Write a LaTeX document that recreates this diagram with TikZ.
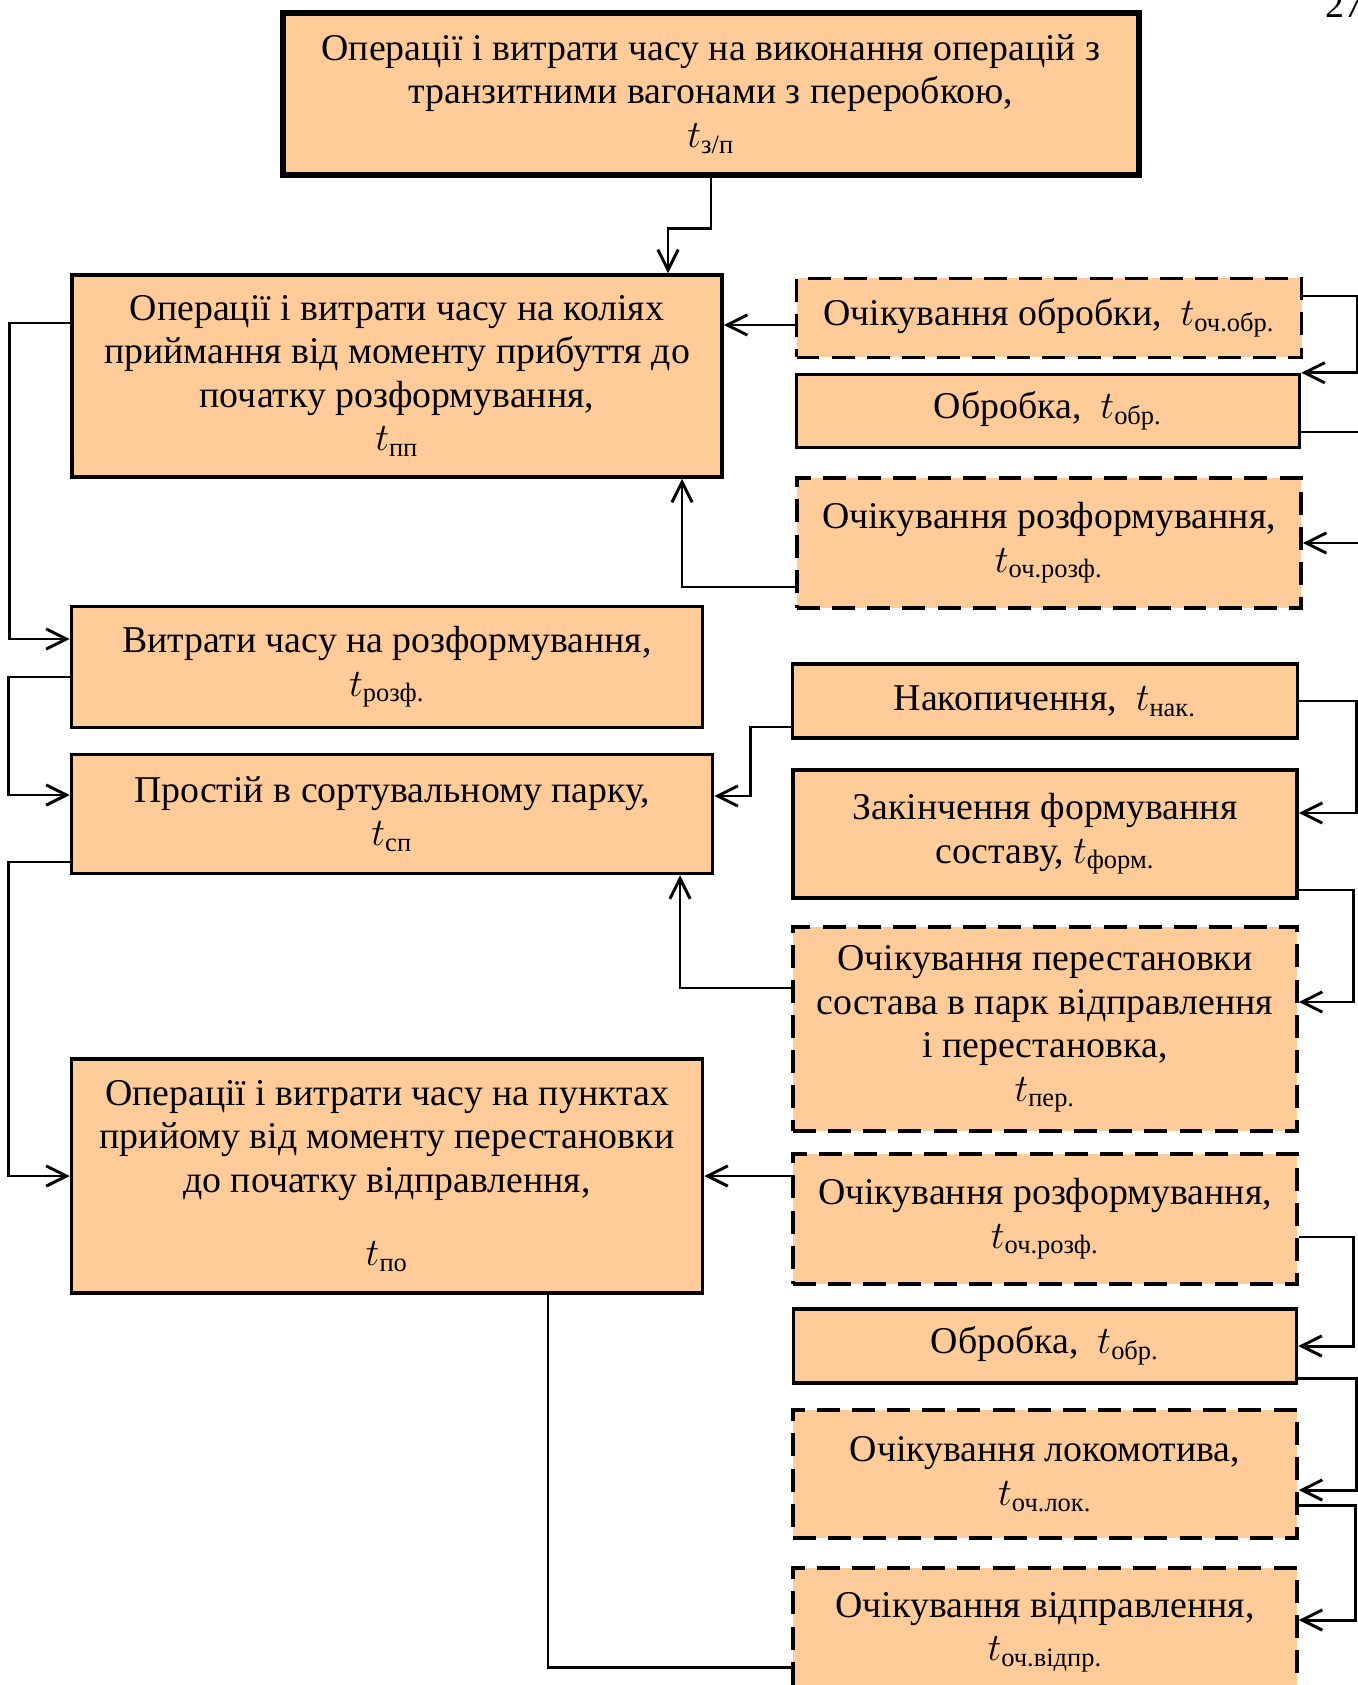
\documentclass[tikz,border=0pt]{standalone}
\usepackage{amsmath}
\usepackage{fontspec}
\setmainfont{Liberation Serif}
\usepackage{tikz}
\usetikzlibrary{arrows.meta}
\definecolor{SchemeBoxColor}{RGB}{255,204,153}
\newlength\pxlength
\setlength\pxlength{0.37pt}

\begin{document}
\begin{tikzpicture}[x=1\pxlength,y=-1\pxlength,
    blk/.style n args={2}{draw,line width=1.3pt,fill=SchemeBoxColor,minimum width=#1\pxlength,minimum height=#2\pxlength,inner sep=0pt,align=center,font=\fontsize{14}{16.1}\selectfont},
    dblk/.style n args={2}{blk={#1}{#2},dash pattern=on 8.5pt off 4.5pt},
    link/.style={line width=1.1pt},
    linkarr/.style={link,-{Straight Barb[length=7.5pt,width=7.5pt]}}]
    \useasboundingbox (0,0) rectangle (1357,1685);
    \node[anchor=base west,inner sep=0pt,font=\fontsize{14}{16.1}\selectfont] (pgnum) at (1325,18) {27};
    \node[blk={856}{162},line width=2pt] (tzp) at (711,94)
       {Операції і витрати часу на виконання операцій з\\ транзитними вагонами з переробкою,\\ $t_{\text{з/п}}$};
    \node[blk={650}{202}] (pp) at (397,376)
       {Операції і витрати часу на коліях\\ приймання від моменту прибуття до\\ початку розформування,\\ $t_{\text{пп}}$};
    \node[dblk={505}{79}] (ocobr) at (1049,318) {Очікування обробки,\ \ $t_{\text{оч.обр.}}$};
    \node[blk={503}{73}] (obr) at (1048,411) {Обробка,\ \ $t_{\text{обр.}}$};
    \node[dblk={504}{130}] (ocrozf) at (1049,543) {Очікування розформування,\\ $t_{\text{оч.розф.}}$};
    \node[blk={631}{121}] (rozf) at (387,667) {Витрати часу на розформування,\\ $t_{\text{розф.}}$};
    \node[blk={641}{119}] (sp) at (392,814) {Простій в сортувальному парку,\\ $t_{\text{сп}}$};
    \node[blk={631}{234}] (po) at (387,1176)
       {Операції і витрати часу на пунктах\\ прийому від моменту перестановки\\ до початку відправлення,\\[11pt] $t_{\text{по}}$};
    \node[blk={505}{74}] (nak) at (1045,701) {Накопичення,\ \ $t_{\text{нак.}}$};
    \node[blk={504}{128}] (form) at (1045,834) {Закінчення формування\\ составу, $t_{\text{форм.}}$};
    \node[dblk={504}{204}] (per) at (1045,1029)
       {Очікування перестановки\\ состава в парк відправлення\\ і перестановка,\\ $t_{\text{пер.}}$};
    \node[dblk={504}{130}] (ocrozf2) at (1045,1219) {Очікування розформування,\\ $t_{\text{оч.розф.}}$};
    \node[blk={503}{74}] (obr2) at (1045,1346) {Обробка,\ \ $t_{\text{обр.}}$};
    \node[dblk={504}{128}] (oclok) at (1045,1474) {Очікування локомотива,\\ $t_{\text{оч.лок.}}$};
    \node[dblk={504}{128}] (ocvidpr) at (1045,1632) {Очікування відправлення,\\ $t_{\text{оч.відпр.}}$};

    \draw[linkarr] (tzp.south) -- ++(0,51) -| ([xshift=271\pxlength]pp.north);
    \draw[linkarr] ([yshift=-7\pxlength]ocobr.west) -- ([yshift=-7\pxlength]ocobr.west -| pp.east);
    \draw[linkarr] ([yshift=22\pxlength]ocobr.east) -- ++(54,0) |- (obr.north east);
    \draw[linkarr] ([yshift=-21\pxlength]obr.east) -- ++(64,0) |- (ocrozf.east);
    \draw[linkarr] ([yshift=-44\pxlength]ocrozf.west) -| ([xshift=285\pxlength]pp.south);
    \draw[linkarr] ([yshift=53\pxlength]pp.west) -- ++(-61,0) |- ([yshift=28\pxlength]rozf.west);
    \draw[linkarr] ([yshift=-10\pxlength]rozf.west) -- ++(-61,0) |- ([yshift=19\pxlength]sp.west);
    \draw[linkarr] ([yshift=-48\pxlength]sp.west) -- ++(-61,0) |- (po.west);
    \draw[linkarr] ([yshift=-26\pxlength]nak.west) -- ++(-40,0) |- ([yshift=18\pxlength]sp.east);
    \draw[linkarr] (nak.east) -- ++(57,0) |- ([yshift=21\pxlength]form.east);
    \draw[linkarr] ([yshift=-56\pxlength]form.east) -- ++(55,0) |- ([yshift=27\pxlength]per.east);
    \draw[linkarr] ([yshift=41\pxlength]per.west) -| ([xshift=288\pxlength]sp.south);
    \draw[linkarr] (po.east -| ocrozf2.west) -- (po.east);
    \draw[linkarr] ([yshift=-18\pxlength]ocrozf2.east) -- ++(55,0) |- (obr2.east);
    \draw[linkarr] ([yshift=-32\pxlength]obr2.east) -- ++(58,0) |- ([yshift=-16\pxlength]oclok.east);
    \draw[linkarr] ([yshift=-31\pxlength]oclok.east) -- ++(57,0) |- ([yshift=12\pxlength]ocvidpr.east);
    \draw[link] ([xshift=161\pxlength]po.south) |- ([yshift=-35\pxlength]ocvidpr.west);
\end{tikzpicture}
\end{document}
